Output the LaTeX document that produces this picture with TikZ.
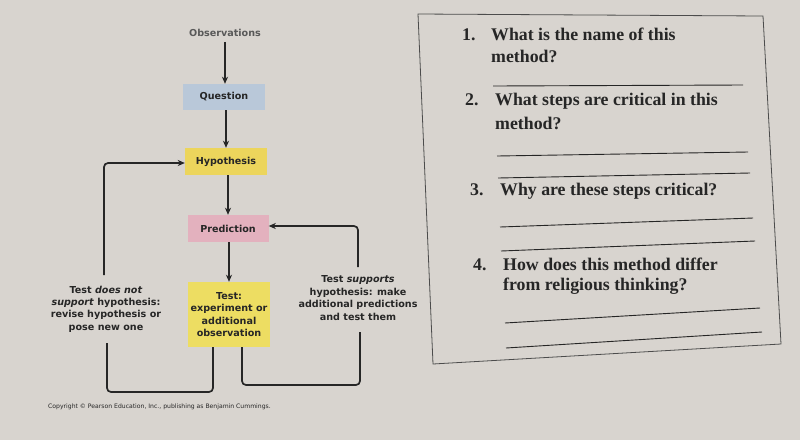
\documentclass[tikz,border=0pt]{standalone}
\usepackage{fontspec}
\setmainfont{Liberation Serif}
\newfontfamily\dvs{DejaVu Sans}
\usetikzlibrary{arrows.meta}
\definecolor{bg}{HTML}{D8D4CF}
\definecolor{qblue}{HTML}{B9C8D9}
\definecolor{hyell}{HTML}{ECD55C}
\definecolor{ppink}{HTML}{E3B1BE}
\definecolor{tyell}{HTML}{EDDD62}
\definecolor{ink}{HTML}{262626}
\tikzset{
  x=1pt, y=-1pt,
  stepbox/.style={draw=none, minimum width=#1, inner sep=0pt, align=center,
    font=\dvs\bfseries\fontsize{9.6}{12.6}\selectfont, text=ink},
  lbl/.style={align=center, font=\dvs\bfseries\fontsize{9.6}{12.4}\selectfont, text=ink, inner sep=0pt},
  flow/.style={line width=1.7pt, draw=black!85, -{Stealth[length=7pt,width=6pt,inset=2pt]}},
  loop/.style={line width=1.7pt, draw=black!85, rounded corners=4pt},
  qtext/.style={anchor=base west, font=\bfseries\fontsize{17.8}{20}\selectfont, text=ink, inner sep=0pt},
  rule/.style={line width=0.9pt, draw=ink},
}
\begin{document}
\begin{tikzpicture}
\fill[bg] (0,0) rectangle (800,440);
\useasboundingbox (0,0) rectangle (800,440);

% right question box
\draw[line width=0.8pt, draw=black!70] (418,14) -- (763,16) -- (781,344) -- (433,364) -- cycle;
\node[qtext] (n1) at (462,40) {1.};
\node[qtext] (q1) at (491,40) {What is the name of this};
\node[qtext] (q1b) at (491,62) {method?};
\draw[rule] (493,86) -- (743,85);
\node[qtext] (n2) at (465,105) {2.};
\node[qtext] (q2) at (495,105) {What steps are critical in this};
\node[qtext] (q2b) at (495,129) {method?};
\draw[rule] (497,156) -- (748,152);
\draw[rule] (498,178) -- (750,173);
\node[qtext] (n3) at (470,195) {3.};
\node[qtext] (q3) at (500,195) {Why are these steps critical?};
\draw[rule] (500,227) -- (753,218);
\draw[rule] (501,251) -- (755,241);
\node[qtext] (n4) at (473,270) {4.};
\node[qtext] (q4) at (503,270) {How does this method differ};
\node[qtext] (q4b) at (503,290) {from religious thinking?};
\draw[rule] (505,323) -- (760,308);
\draw[rule] (506,348) -- (762,332);

% flowchart
\node[font=\dvs\bfseries\fontsize{9.6}{11}\selectfont, text=black!65, inner sep=1pt] (obs) at (225,33) {Observations};
\node[stepbox=82pt, minimum height=26pt, fill=qblue] (que) at (224,97) {Question};
\node[stepbox=82pt, minimum height=27pt, fill=hyell] (hyp) at (226,161.5) {Hypothesis};
\node[stepbox=81pt, minimum height=27pt, fill=ppink] (pre) at (228,228.5) {Prediction};
\node[stepbox=82pt, minimum height=65pt, fill=tyell] (tst) at (229,314.5) {Test:\\experiment or\\additional\\observation};

\draw[flow] ([yshift=-4pt]obs.south) -- (obs.south |- que.north);
\draw[flow] ([xshift=2pt]que.south) -- ([xshift=2pt]que.south |- hyp.north);
\draw[flow] ([xshift=2pt]hyp.south) -- ([xshift=2pt]hyp.south |- pre.north);
\draw[flow] ([xshift=1pt]pre.south) -- ([xshift=1pt]pre.south |- tst.north);

% loop labels
\node[lbl] (lft) at (106,309) {Test \textit{does not}\\\textit{support} hypothesis:\\revise hypothesis or\\pose new one};
\node[lbl] (rgt) at (358,298) {Test \textit{supports}\\hypothesis: make\\additional predictions\\and test them};

% left loop
\coordinate (lb) at (107,343);
\coordinate (lt) at (104,275);
\coordinate (lbot) at (213,392);
\coordinate (hin) at (104,163);
\draw[loop] (tst.south -| lbot) -- (lbot) -- (lbot -| lb) -- (lb);
\draw[loop, -{Stealth[length=7pt,width=6pt,inset=2pt]}] (lt) -- (hin) -- (hin -| hyp.west);

% right loop
\coordinate (rb) at (360,332);
\coordinate (rt) at (358,267);
\coordinate (rbot) at (242,385);
\coordinate (pin) at (358,226);
\draw[loop] (tst.south -| rbot) -- (rbot) -- (rbot -| rb) -- (rb);
\draw[loop, -{Stealth[length=7pt,width=6pt,inset=2pt]}] (rt) -- (pin) -- (pin -| pre.east);

\node[anchor=base west, font=\dvs\fontsize{6.1}{7}\selectfont, text=ink, inner sep=0pt] (copy) at (48,408)
  {Copyright \textcopyright\ Pearson Education, Inc., publishing as Benjamin Cummings.};
\end{tikzpicture}
\end{document}
